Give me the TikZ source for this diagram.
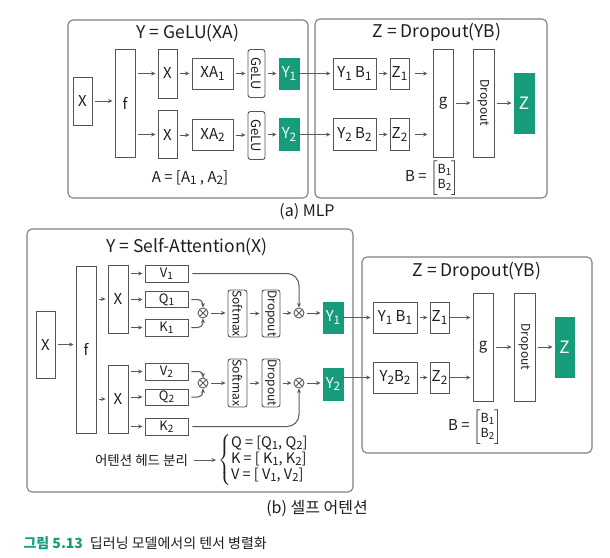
\documentclass[tikz,border=0pt]{standalone}
\usepackage{fontspec}
\setmainfont{Noto Sans CJK KR}
\usepackage{amsmath}
\usetikzlibrary{arrows.meta}
\definecolor{grn}{HTML}{169B7B}
\definecolor{boxc}{HTML}{555555}
\definecolor{framec}{HTML}{808080}
\definecolor{arrc}{HTML}{5A5A5A}
\definecolor{txt}{HTML}{1E1E1E}
\newcommand{\sbs}[1]{\raisebox{-0.3ex}{\scalebox{0.78}{#1}}}
\begin{document}
\begin{tikzpicture}[x=1pt,y=1pt,
  box/.style={draw=boxc, line width=0.9pt, fill=white, inner sep=0pt, font=\fontsize{15}{17}\selectfont, text=txt},
  sbox/.style={box, font=\fontsize{13}{15}\selectfont},
  rbox/.style={box, rounded corners=2.5pt},
  gbox/.style={box, fill=grn, draw=grn, text=white},
  wh/.style 2 args={minimum width=#1pt, minimum height=#2pt},
  frame/.style={draw=framec, line width=1.1pt, rounded corners=5pt},
  arr/.style={draw=arrc, line width=1pt, -{Stealth[length=4.5pt,width=4pt]}, shorten <=2.5pt, shorten >=2pt},
  ln/.style={draw=arrc, line width=1pt, -{Stealth[length=4.5pt,width=4pt]}},
  vtxt/.style={rotate=-90, font=\fontsize{12}{14}\selectfont, text=txt, inner sep=0pt},
  otimes/.style={circle, draw=arrc, line width=0.9pt, minimum size=10pt, inner sep=0pt,
    path picture={\draw[arrc, line width=0.9pt] (path picture bounding box.north west) -- (path picture bounding box.south east) (path picture bounding box.north east) -- (path picture bounding box.south west);}},
  ttl/.style={font=\fontsize{17.5}{20}\selectfont, text=txt},
  lbl/.style={font=\fontsize{13}{15}\selectfont, text=txt},
  eq/.style={font=\fontsize{15}{17}\selectfont, text=txt},
]
\fill[white] (0,0) rectangle (610,-557);
\useasboundingbox (0,0) rectangle (610,-557);

% ---------- frames ----------
\draw[frame] (68,-20) rectangle (308,-198);
\draw[frame] (315,-19) rectangle (547,-198);
\draw[frame] (27,-229) rectangle (353,-492);
\draw[frame] (362,-257) rectangle (592,-453);

% ---------- (a) left ----------
\node[ttl] (ta) at (188,-33) {Y = GeLU(XA)};
\node[box, wh={19}{48}] (xa) at (82.5,-101) {X};
\node[box, wh={20}{108}] (fa) at (125,-103) {f};
\node[box, wh={19}{49}] (xa1) at (167.5,-73.5) {X};
\node[box, wh={19}{48}] (xa2) at (167.5,-134.5) {X};
\node[box, wh={41}{31}] (XA1) at (212.5,-73.5) {XA\sbs{1}};
\node[box, wh={41}{31}] (XA2) at (212.5,-135) {XA\sbs{2}};
\node[rbox, wh={17}{48}] (gl1) at (256.5,-73.5) {};
\node[vtxt, font=\fontsize{13}{15}\selectfont] at (gl1) {GeLU};
\node[rbox, wh={17}{48}] (gl2) at (256.5,-135.5) {};
\node[vtxt, font=\fontsize{13}{15}\selectfont] at (gl2) {GeLU};
\node[gbox, wh={20}{31}] (ya1) at (289,-73.5) {Y\sbs{1}};
\node[gbox, wh={20}{32}] (ya2) at (289,-134.5) {Y\sbs{2}};
\node[eq] (aeq) at (190,-178) {A = [A\sbs{1} , A\sbs{2}]};

\draw[arr] (xa.east) -- (xa.east -| fa.west);
\draw[arr] (fa.east |- xa1) -- (xa1.west);
\draw[arr] (fa.east |- xa2) -- (xa2.west);
\draw[arr] (xa1.east |- XA1) -- (XA1.west);
\draw[arr] (xa2.east |- XA2) -- (XA2.west);
\draw[arr] (XA1.east) -- (XA1.east -| gl1.west);
\draw[arr] (XA2.east) -- (XA2.east -| gl2.west);
\draw[arr] (gl1.east |- ya1) -- (ya1.west);
\draw[arr] (gl2.east |- ya2) -- (ya2.west);

% ---------- (a) right ----------
\node[ttl] (tb) at (437,-32) {Z = Dropout(YB)};
\node[box, wh={43}{31}] (yb1a) at (354.5,-73.5) {Y\sbs{1} B\sbs{1}};
\node[box, wh={19}{31}] (z1a) at (399.5,-73.5) {Z\sbs{1}};
\node[box, wh={43}{32}] (yb2a) at (354.5,-134.5) {Y\sbs{2} B\sbs{2}};
\node[box, wh={19}{32}] (z2a) at (399.5,-134.5) {Z\sbs{2}};
\node[box, wh={20}{108}] (ga) at (443,-103) {g};
\node[box, wh={21}{108}] (da) at (483.5,-103) {};
\node[vtxt] at (da) {Dropout};
\node[gbox, wh={20}{60}, font=\fontsize{17}{19}\selectfont] (za) at (524,-103) {Z};
\node[eq] (beqa) at (432,-178) {B = $\left[\begin{array}{@{}c@{}}\text{\fontsize{12.5}{14}\selectfont B\sbs{1}}\\[-2pt]\text{\fontsize{12.5}{14}\selectfont B\sbs{2}}\end{array}\right]$};

\draw[arr, shorten <=0pt] (ya1.east) -- (yb1a.west);
\draw[arr, shorten <=0pt] (ya2.east) -- (yb2a.west);
\draw[arr] (yb1a.east) -- (z1a.west);
\draw[arr] (yb2a.east) -- (z2a.west);
\draw[arr, shorten <=6pt, shorten >=5pt] (z1a.east) -- (z1a.east -| ga.west);
\draw[arr, shorten <=6pt, shorten >=5pt] (z2a.east) -- (z2a.east -| ga.west);
\draw[arr] (ga.east) -- (da.west);
\draw[arr] (da.east) -- (za.west);

\node[font=\fontsize{16}{18}\selectfont, text=txt] (capa) at (307,-212) {(a) MLP};

% ---------- (b) left ----------
\node[ttl] (tc) at (187,-247) {Y = Self-Attention(X)};
\node[box, wh={19}{67}] (xb) at (45.5,-344.5) {X};
\node[box, wh={20}{167}] (fb) at (86,-349.5) {f};
\node[box, wh={20}{68}] (xb1) at (118,-299) {X};
\node[box, wh={20}{68}] (xb2) at (118,-399) {X};
\node[sbox, wh={43}{17}] (v1) at (166.5,-273.5) {V\sbs{1}};
\node[sbox, wh={43}{16}] (q1) at (166.5,-299.5) {Q\sbs{1}};
\node[sbox, wh={43}{17}] (k1) at (166.5,-327.5) {K\sbs{1}};
\node[sbox, wh={43}{17}] (v2) at (166.5,-371.5) {V\sbs{2}};
\node[sbox, wh={43}{16}] (q2) at (166.5,-397) {Q\sbs{2}};
\node[sbox, wh={43}{17}] (k2) at (166.5,-426.5) {K\sbs{2}};
\node[otimes] (o1) at (203,-313) {};
\node[otimes] (o2) at (299,-313) {};
\node[otimes] (o3) at (203,-383) {};
\node[otimes] (o4) at (299,-383) {};
\node[rbox, wh={19}{47}] (sm1) at (237.5,-313.5) {};
\node[vtxt] at (sm1) {Softmax};
\node[rbox, wh={18}{47}] (dr1) at (271,-313.5) {};
\node[vtxt] at (dr1) {Dropout};
\node[rbox, wh={19}{48}] (sm2) at (237.5,-383) {};
\node[vtxt] at (sm2) {Softmax};
\node[rbox, wh={18}{48}] (dr2) at (271,-383) {};
\node[vtxt] at (dr2) {Dropout};
\node[gbox, wh={20}{31}] (yb1) at (333,-317.5) {Y\sbs{1}};
\node[gbox, wh={20}{32}] (yb2) at (333,-384) {Y\sbs{2}};

\draw[arr] (xb.east) -- (xb.east -| fb.west);
\draw[arr] (fb.east |- xb1) -- (xb1.west);
\draw[arr] (fb.east |- xb2) -- (xb2.west);
\foreach \n in {v1,q1,k1} \draw[arr] (xb1.east |- \n) -- (\n.west);
\foreach \n in {v2,q2,k2} \draw[arr] (xb2.east |- \n) -- (\n.west);
\draw[ln, shorten <=3pt, rounded corners=5pt] (q1.east) -- (q1.east -| o1) -- (o1.north);
\draw[ln, shorten <=3pt, rounded corners=5pt] (k1.east) -- (k1.east -| o1) -- (o1.south);
\draw[ln, shorten <=3pt, rounded corners=4pt] (v2.east) -- (v2.east -| o3) -- (o3.north);
\draw[ln, shorten <=3pt, rounded corners=5pt] (q2.east) -- (q2.east -| o3) -- (o3.south);
\draw[ln, shorten <=4pt, rounded corners=12pt] (v1.east) -- (v1.east -| o2) -- (o2.north);
\draw[ln, shorten <=4pt, rounded corners=12pt] (k2.east) -- (k2.east -| o4) -- (o4.south);
\draw[arr] (o1.east) -- (o1 -| sm1.west);
\draw[arr] (o3.east) -- (o3 -| sm2.west);
\draw[arr] (sm1.east) -- (dr1.west);
\draw[arr] (sm2.east) -- (dr2.west);
\draw[arr] (dr1.east |- o2) -- (o2.west);
\draw[arr] (dr2.east |- o4) -- (o4.west);
\draw[arr] (o2.east) -- (o2 -| yb1.west);
\draw[arr] (o4.east) -- (o4 -| yb2.west);

\node[lbl, font=\fontsize{13.5}{15}\selectfont] (sep) at (141.5,-460) {어텐션 헤드 분리};
\node[anchor=west, inner sep=0pt, font=\fontsize{14.5}{16}\selectfont, text=txt] (qkv) at (218,-460) {$\renewcommand{\arraystretch}{0.95}\left\{\begin{array}{@{}l@{}}\text{Q = [Q\sbs{1}, Q\sbs{2}]}\\ \text{K = [ K\sbs{1}, K\sbs{2}]}\\ \text{V = [ V\sbs{1}, V\sbs{2}]}\end{array}\right.$};
\draw[arr] (sep.east) -- (qkv.west);

% ---------- (b) right ----------
\node[ttl] (td) at (477,-271) {Z = Dropout(YB)};
\node[box, wh={44}{31}] (yb1b) at (395,-317.5) {Y\sbs{1} B\sbs{1}};
\node[box, wh={19}{31}] (z1b) at (439.5,-317.5) {Z\sbs{1}};
\node[box, wh={44}{31}] (yb2b) at (395,-377.5) {Y\sbs{2}B\sbs{2}};
\node[box, wh={19}{31}] (z2b) at (439.5,-377.5) {Z\sbs{2}};
\node[box, wh={20}{108}] (gb) at (483,-347) {g};
\node[box, wh={21}{108}] (db) at (524.5,-347) {};
\node[vtxt] at (db) {Dropout};
\node[gbox, wh={19}{60}, font=\fontsize{17}{19}\selectfont] (zb) at (564.5,-347) {Z};
\node[eq] (beqb) at (475,-427) {B = $\left[\begin{array}{@{}c@{}}\text{\fontsize{12.5}{14}\selectfont B\sbs{1}}\\[-2pt]\text{\fontsize{12.5}{14}\selectfont B\sbs{2}}\end{array}\right]$};

\draw[arr, shorten <=0pt] (yb1.east) -- (yb1b.west);
\draw[arr, shorten <=0pt] (yb2.east |- yb2b) -- (yb2b.west);
\draw[arr] (yb1b.east) -- (z1b.west);
\draw[arr] (yb2b.east) -- (z2b.west);
\draw[arr, shorten <=0pt] (z1b.east) -- (z1b.east -| gb.west);
\draw[arr, shorten <=0pt] (z2b.east) -- (z2b.east -| gb.west);
\draw[arr] (gb.east) -- (db.west);
\draw[arr] (db.east) -- (zb.west);

\node[font=\fontsize{16}{18}\selectfont, text=txt] (capb) at (317,-508) {(b) 셀프 어텐션};

% ---------- caption ----------
\node[anchor=west, font=\fontsize{14}{16}\selectfont, text=txt] (fig) at (20,-543) {\textcolor{grn}{\bfseries 그림 5.13}\hspace{0.5em}딥러닝 모델에서의 텐서 병렬화};
\end{tikzpicture}
\end{document}
